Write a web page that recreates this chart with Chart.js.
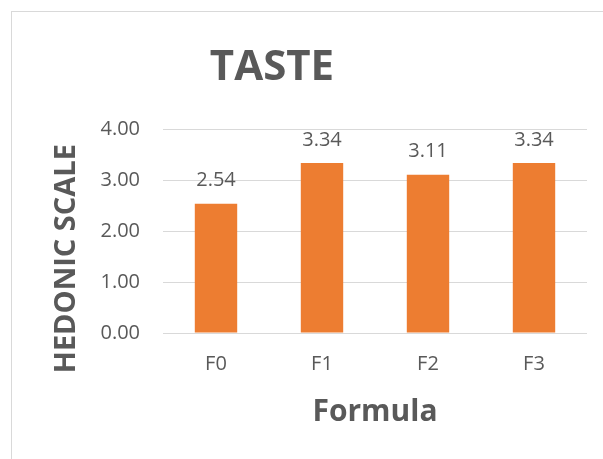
<!DOCTYPE html>
<html>
<head>
<meta charset="utf-8">
<script src="https://cdn.jsdelivr.net/npm/chart.js@4"></script>
<style>
html,body{margin:0;padding:0;background:#fff;}
#wrap{width:603px;height:459px;position:relative;}
</style>
</head>
<body>
<div id="wrap"><canvas id="c" width="603" height="459"></canvas></div>
<script>
const categories = ['F0', 'F1', 'F2', 'F3'];
const tasteValues = [2.54, 3.34, 3.11, 3.34];
const yTicks = [0, 1, 2, 3, 4];
const chartTitle = 'TASTE';
const yTitle = 'HEDONIC SCALE';
const xTitle = 'Formula';

const FONT = "'Open Sans', 'DejaVu Sans', sans-serif";
const TEXT = '#595959';

const framePlugin = {
  id: 'frame',
  beforeDraw(chart) {
    const ctx = chart.ctx;
    ctx.save();
    ctx.fillStyle = '#fff';
    ctx.fillRect(0, 0, chart.width, chart.height);
    ctx.strokeStyle = '#d9d9d9';
    ctx.lineWidth = 1;
    ctx.strokeRect(11.5, 11.5, chart.width + 50, chart.height + 50);
    ctx.restore();
  },
  afterLayout(chart) {
    const tb = chart.titleBlock;
    if (tb) { tb.left = 40; tb.right = 504; }
  }
};

const labelPlugin = {
  id: 'valueLabels',
  afterDatasetsDraw(chart) {
    const ctx = chart.ctx;
    ctx.save();
    ctx.font = '20px ' + FONT;
    ctx.fillStyle = TEXT;
    ctx.textAlign = 'center';
    ctx.textBaseline = 'middle';
    chart.getDatasetMeta(0).data.forEach((bar, i) => {
      ctx.fillText(tasteValues[i].toFixed(2), bar.x, bar.y - 23);
    });
    ctx.restore();
  },
  afterDraw(chart) {
    const ctx = chart.ctx;
    const a = chart.chartArea;
    ctx.save();
    ctx.font = 'bold 29px ' + FONT;
    ctx.fillStyle = TEXT;
    ctx.textAlign = 'center';
    ctx.textBaseline = 'middle';
    ctx.translate(67, a.top + (a.bottom - a.top) * 0.635);
    ctx.rotate(-Math.PI / 2);
    ctx.fillText(yTitle, 0, 0);
    ctx.restore();
  }
};

new Chart(document.getElementById('c'), {
  type: 'bar',
  data: {
    labels: categories,
    datasets: [{
      data: tasteValues,
      backgroundColor: '#ED7D31',
      borderWidth: 0,
      categoryPercentage: 0.8,
      barPercentage: 0.5
    }]
  },
  options: {
    responsive: false,
    animation: false,
    devicePixelRatio: 1,
    layout: { padding: { left: 11, right: 16, top: 0, bottom: 0 } },
    plugins: {
      legend: { display: false },
      tooltip: { enabled: false },
      title: {
        display: true,
        text: chartTitle,
        color: TEXT,
        font: { family: FONT, size: 42, weight: 'bold', lineHeight: 1.2 },
        padding: { top: 43, bottom: 36 }
      }
    },
    scales: {
      x: {
        grid: { display: false, drawTicks: false },
        border: { display: false },
        ticks: { color: TEXT, font: { family: FONT, size: 20 }, padding: 19 },
        title: {
          display: true, text: xTitle, color: TEXT,
          font: { family: FONT, size: 30, weight: 'bold', lineHeight: 1.2 },
          padding: { top: 0, bottom: 29 }
        },
        afterFit(scale) { scale.height = 126; }
      },
      y: {
        min: 0, max: 4,
        afterBuildTicks(scale) { scale.ticks = yTicks.map(v => ({ value: v })); },
        grid: { color: '#d9d9d9', lineWidth: 1, drawTicks: false },
        border: { display: false },
        ticks: {
          color: TEXT, font: { family: FONT, size: 20 }, padding: 23,
          callback: v => Number(v).toFixed(2)
        },
        afterFit(scale) { scale.width = 152; }
      }
    }
  },
  plugins: [framePlugin, labelPlugin]
});
</script>
</body>
</html>
